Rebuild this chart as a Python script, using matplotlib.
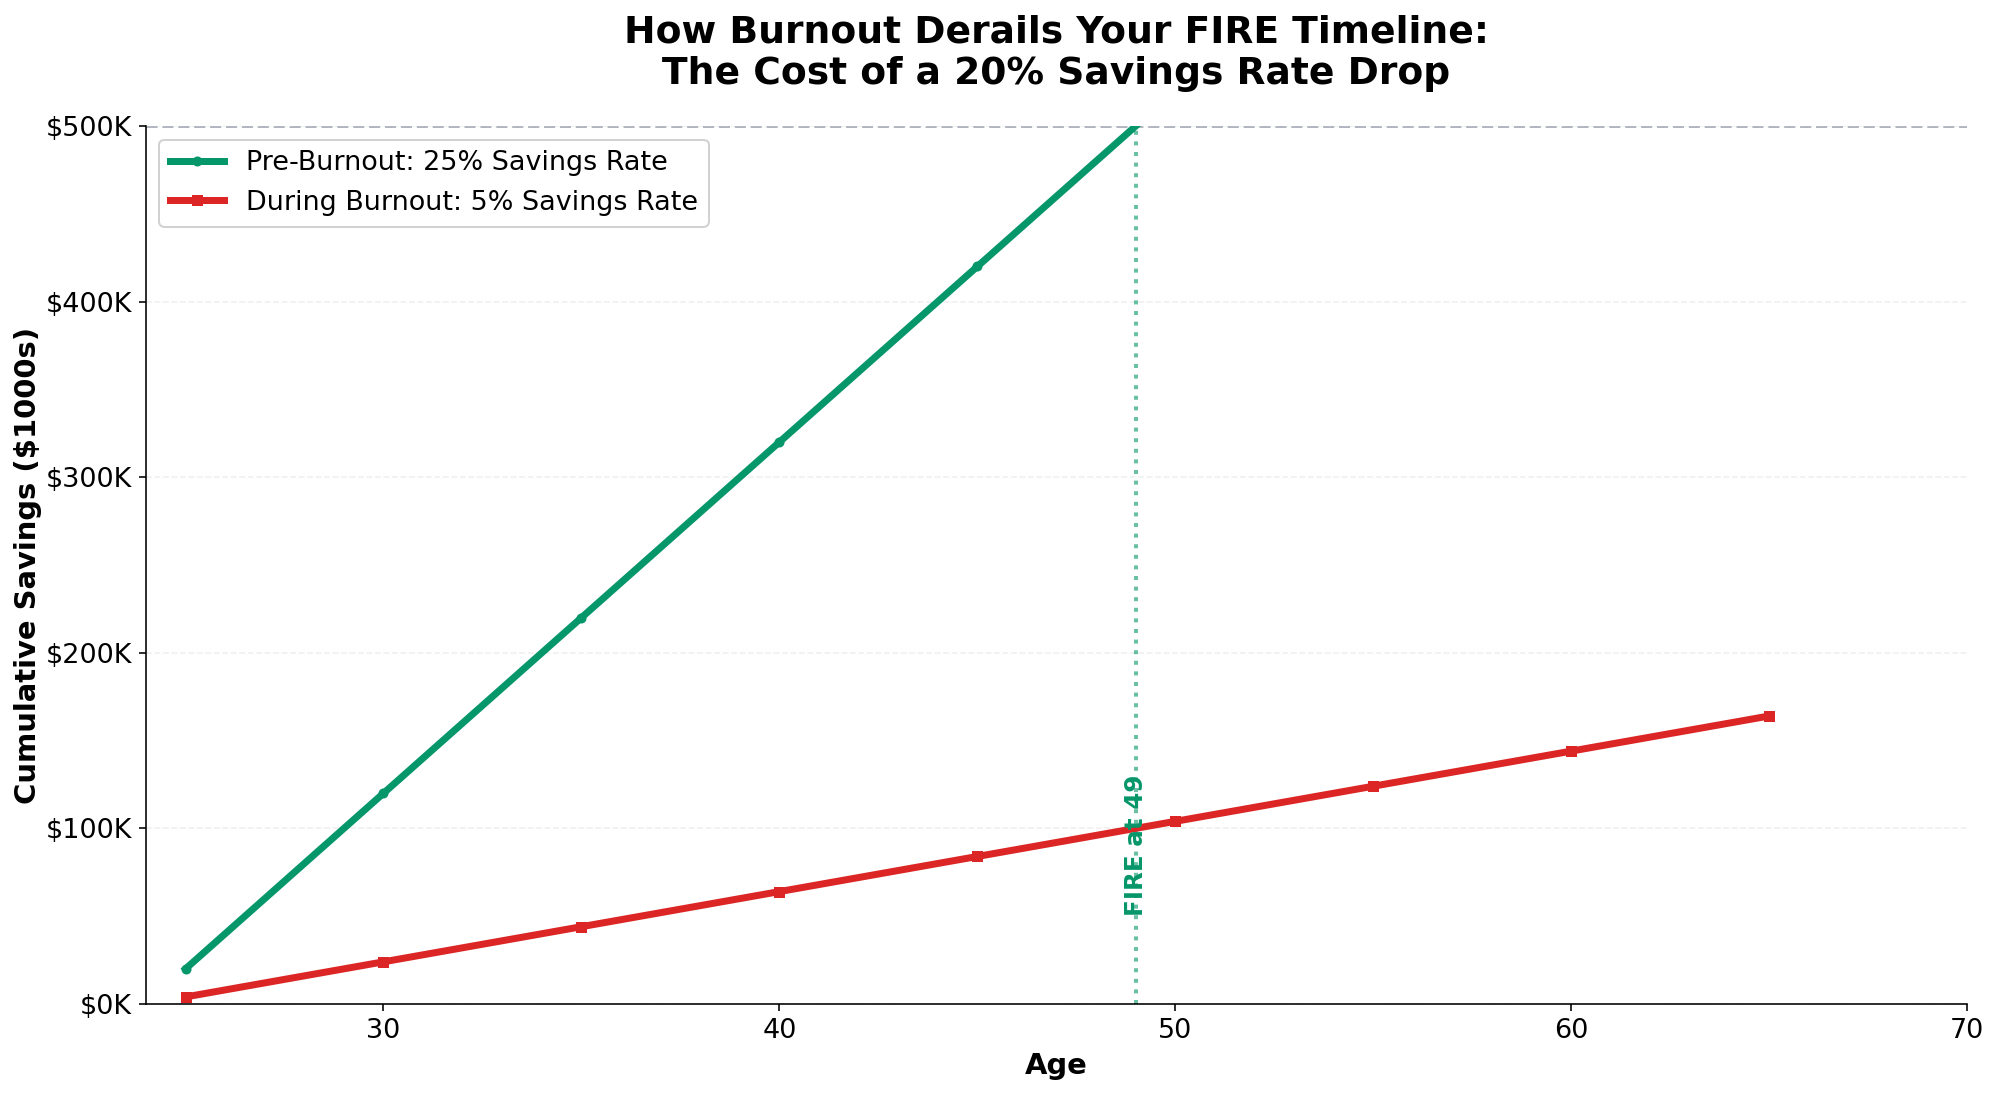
import matplotlib
matplotlib.use("Agg")
import matplotlib.pyplot as plt
from matplotlib.ticker import FuncFormatter

ages = [25, 30, 35, 40, 45, 50, 55, 60, 65]
pre_burnout = [20, 120, 220, 320, 420, 520, 620, 720, 820]
during_burnout = [4, 24, 44, 64, 84, 104, 124, 144, 164]
fire_age = 49
fire_target = 500

green = "#059669"
red = "#DC2626"

dpi = 144
fig = plt.figure(figsize=(1994 / dpi, 1094 / dpi), dpi=dpi)
ax = fig.add_axes([0.0732, 0.0823, 0.9865 - 0.0732, 0.8848 - 0.0823])

ax.plot(ages, pre_burnout, color=green, lw=3.5, marker="o", markersize=4,
        label="Pre-Burnout: 25% Savings Rate", zorder=3)
ax.plot(ages, during_burnout, color=red, lw=3.5, marker="s", markersize=4.5,
        label="During Burnout: 5% Savings Rate", zorder=3)

ax.axhline(fire_target, color="#9CA3AF", ls="--", lw=1.5, alpha=0.8, zorder=1)
ax.axvline(fire_age, color=green, ls=":", lw=2, alpha=0.6, zorder=2)
ax.text(fire_age, 50, f"FIRE at {fire_age}", rotation=90, ha="center", va="bottom",
        color=green, fontsize=12.3, fontweight="bold", zorder=4)

ax.set_xlim(24, 70)
ax.set_ylim(0, 500)
ax.set_xticks([30, 40, 50, 60, 70])
ax.set_yticks([0, 100, 200, 300, 400, 500])
ax.yaxis.set_major_formatter(FuncFormatter(lambda v, p: f"${v:.0f}K"))
ax.tick_params(labelsize=13.5)
ax.grid(axis="y", ls="--", alpha=0.3, color="#cccccc")
ax.grid(axis="x", visible=False)
for s in ["top", "right"]:
    ax.spines[s].set_visible(False)

ax.set_xlabel("Age", fontsize=14.5, fontweight="bold")
ax.set_ylabel("Cumulative Savings ($1000s)", fontsize=14.5, fontweight="bold", labelpad=2)
ax.set_title("How Burnout Derails Your FIRE Timeline:\nThe Cost of a 20% Savings Rate Drop",
             fontsize=18.8, fontweight="bold", pad=21)
ax.legend(loc="upper left", fontsize=13.5, framealpha=0.9)

fig.savefig("out.png", dpi=dpi)
